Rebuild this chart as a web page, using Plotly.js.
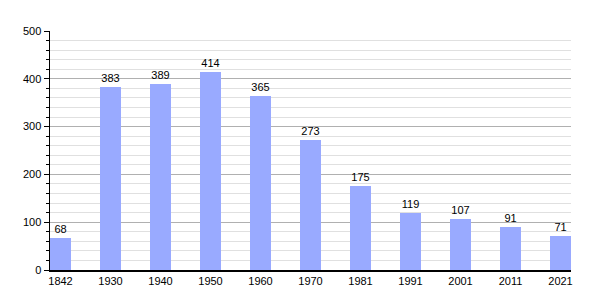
<!DOCTYPE html>
<html><head><meta charset="utf-8">
<script src="https://cdn.plot.ly/plotly-3.0.1.min.js"></script>
<style>html,body{margin:0;padding:0;background:#fff}</style>
</head><body>
<div id="chart" style="width:600px;height:300px"></div>
<script>
const years = ["1842","1930","1940","1950","1960","1970","1981","1991","2001","2011","2021"];
const population = [68,383,389,414,365,273,175,119,107,91,71];
const yTicks = [0,100,200,300,400,500];

const trace = {
  type: 'bar',
  x: years,
  y: population,
  width: 0.42,
  marker: {color: '#99aaff', line: {width: 0}},
  text: population.map(String),
  textposition: 'outside',
  cliponaxis: false,
  textfont: {family: 'Liberation Sans, Arial, sans-serif', size: 11, color: '#000'},
  hoverinfo: 'none'
};

const layout = {
  width: 600, height: 300,
  margin: {l: 50, r: 29, t: 31, b: 30, pad: 0},
  paper_bgcolor: '#fff', plot_bgcolor: '#fff',
  showlegend: false,
  font: {family: 'Liberation Sans, Arial, sans-serif', size: 11, color: '#000'},
  xaxis: {
    type: 'category',
    range: [-0.21, 10.21],
    showgrid: false,
    showline: true, linecolor: '#000', linewidth: 1.5,
    ticks: '', tickfont: {size: 11, color: '#000'},
    fixedrange: true
  },
  yaxis: {
    range: [0, 500],
    tickvals: yTicks,
    ticktext: yTicks.map(String),
    showgrid: true, gridcolor: '#b0b0b0', gridwidth: 1,
    zeroline: false,
    showline: true, linecolor: '#000', linewidth: 1.5,
    ticks: 'outside', ticklen: 5, tickcolor: '#000', tickwidth: 1,
    tickfont: {size: 11, color: '#000'},
    minor: {dtick: 20, showgrid: true, gridcolor: '#e0e0e0', gridwidth: 1, ticks: 'outside', ticklen: 3, tickcolor: '#000'},
    fixedrange: true
  },
  bargap: 0
};

Plotly.newPlot('chart', [trace], layout, {staticPlot: true, displayModeBar: false});
</script>
</body></html>
